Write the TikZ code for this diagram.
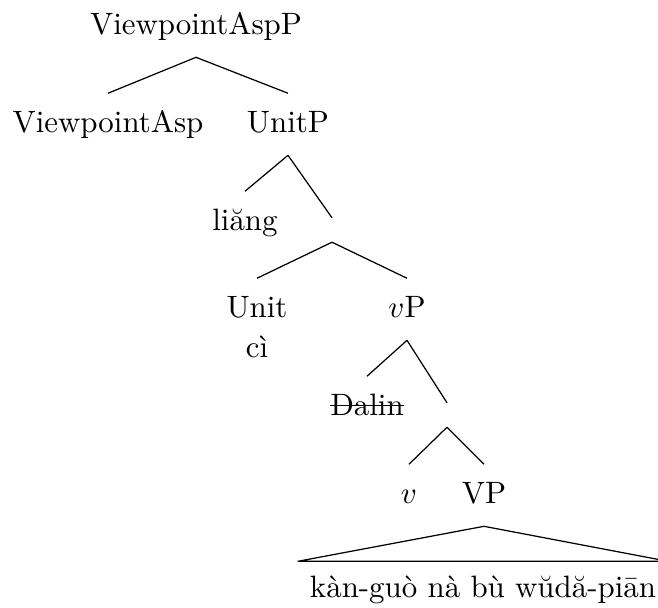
\documentclass[tikz,border=0pt]{standalone}
\usepackage{amsmath}
\usepackage{tikz}

\begin{document}
\begin{tikzpicture}[x=0.3236pt,y=-0.3236pt,
    lbl/.style={anchor=base,text height=6.94pt,text depth=1.94pt,inner xsep=0pt,inner ysep=5.4pt},
    joint/.style={inner sep=0pt,minimum size=7.5pt},
    roofleaf/.style={anchor=base,text height=6.94pt,text depth=1.94pt,inner xsep=3.8pt,inner ysep=4.4pt}]
      \useasboundingbox (0,0) rectangle (658,607);
      % labelled nodes
      \node[lbl] (vaspp) at (196,34) {ViewpointAspP};
      \node[lbl] (vasp) at (108,132) {ViewpointAsp};
      \node[lbl] (unitp) at (288,132) {UnitP};
      \node[lbl] (liang) at (245,230) {liăng};
      \node[joint] (bar1) at (332,230) {};
      \node[lbl] (unit) at (257,317) {Unit};
      \node[lbl] (ci) at (257,357) {cì};
      \node[lbl] (vp) at (407,317) {$v$P};
      \node[lbl] (dalin) at (367,415) {Dalin};
      \node[joint] (bar2) at (447,415) {};
      \node[lbl] (v) at (409,503) {$v$};
      \node[lbl] (bigvp) at (484,503) {VP};
      \node[roofleaf] (words) at (483,597) {kàn-guò nà bù wŭdă-piān};
      % strike through the moved subject
      \draw ([yshift=3.2pt]dalin.base west)--([yshift=3.2pt]dalin.base east);
      % branches
      \draw (vaspp.south)--(vasp.north);
      \draw (vaspp.south)--(unitp.north);
      \draw (unitp.south)--(liang.north);
      \draw (unitp.south)--(bar1.north);
      \draw (bar1.south)--(unit.north);
      \draw (bar1.south)--(vp.north);
      \draw (vp.south)--(dalin.north);
      \draw (vp.south)--(bar2.north);
      \draw (bar2.south)--(v.north);
      \draw (bar2.south)--(bigvp.north);
      \draw (bigvp.south)--(words.north west)--(words.north east)--cycle;
\end{tikzpicture}
\end{document}
